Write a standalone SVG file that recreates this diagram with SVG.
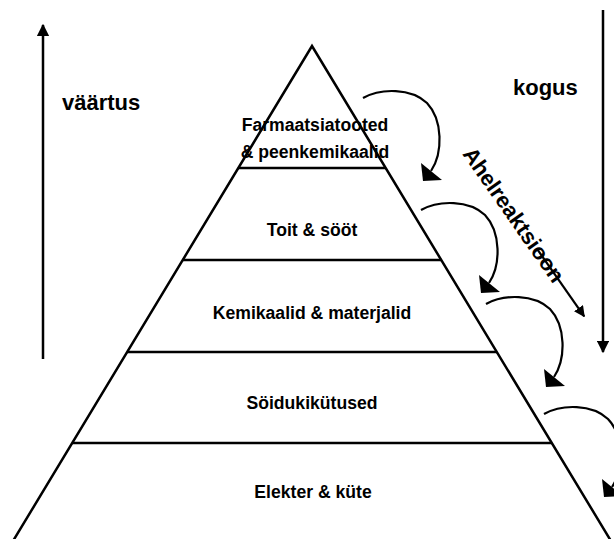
<svg xmlns="http://www.w3.org/2000/svg" xmlns:xlink="http://www.w3.org/1999/xlink" width="614" height="539" viewBox="0 0 614 539">
  <style>
    .ln { fill: none; stroke: #000; stroke-width: 2.5; stroke-linecap: butt; }
    .arc { fill: none; stroke: #000; stroke-width: 2.2; }
    .lbl { font-family: "Liberation Sans", Arial, sans-serif; font-weight: bold; font-size: 17.6px; fill: #000; text-anchor: middle; }
    .big { font-family: "Liberation Sans", Arial, sans-serif; font-weight: bold; font-size: 22px; fill: #000; }
  </style>
  <defs>
    <marker id="ah" viewBox="0 0 10 10" refX="9" refY="5" markerWidth="5" markerHeight="5" orient="auto" markerUnits="strokeWidth">
      <path d="M0,0 L10,5 L0,10 Z" fill="#000"/>
    </marker>
    <g id="curveArrow">
      <path class="arc" d="M0,0 C18,-10 48,-10 64,5 C80,22 80,55 68,73"/>
      <polygon points="58,65 60,83 79,82" fill="#000"/>
    </g>
  </defs>
  <rect width="614" height="539" fill="#fff"/>

  <g id="pyramid-outline">
    <polyline class="ln" points="10.6,545 312,46 613.4,545"/>
  </g>
  <g id="level-farmaatsia">
    <line class="ln" x1="238.3" y1="168" x2="385.7" y2="168"/>
    <text class="lbl" x="315" y="131">Farmaatsiatooted</text>
    <text class="lbl" x="315" y="158">&amp; peenkemikaalid</text>
  </g>
  <g id="level-toit">
    <line class="ln" x1="182.7" y1="260" x2="441.3" y2="260"/>
    <text class="lbl" x="312" y="236">Toit &amp; sööt</text>
  </g>
  <g id="level-kemikaalid">
    <line class="ln" x1="127.2" y1="352" x2="496.8" y2="352"/>
    <text class="lbl" x="312" y="319">Kemikaalid &amp; materjalid</text>
  </g>
  <g id="level-soidukikutused">
    <line class="ln" x1="72.2" y1="443" x2="551.8" y2="443"/>
    <text class="lbl" x="312" y="409">Söidukikütused</text>
  </g>
  <g id="level-elekter">
    <text class="lbl" x="313" y="498">Elekter &amp; küte</text>
  </g>

  <g id="label-vaartus">
    <text class="big" x="62" y="110">väärtus</text>
  </g>
  <g id="label-kogus">
    <text class="big" x="513" y="95">kogus</text>
  </g>
  <g id="label-ahelreaktsioon" transform="translate(462,154) rotate(55)">
    <text class="big" x="0" y="0">Ahelreaktsioon</text>
  </g>

  <g id="connectors">
    <line x1="43" y1="359" x2="43" y2="25" stroke="#000" stroke-width="2.5" marker-end="url(#ah)"/>
    <line x1="603" y1="10" x2="603" y2="352" stroke="#000" stroke-width="2.5" marker-end="url(#ah)"/>
    <g transform="translate(462,154) rotate(55)">
      <line x1="122" y1="-7" x2="203" y2="-7" stroke="#000" stroke-width="2.2" marker-end="url(#ah)"/>
    </g>
    <use xlink:href="#curveArrow" transform="translate(363,98)"/>
    <use xlink:href="#curveArrow" transform="translate(421,210)"/>
    <use xlink:href="#curveArrow" transform="translate(486,304)"/>
    <use xlink:href="#curveArrow" transform="translate(544,414)"/>
  </g>
</svg>
